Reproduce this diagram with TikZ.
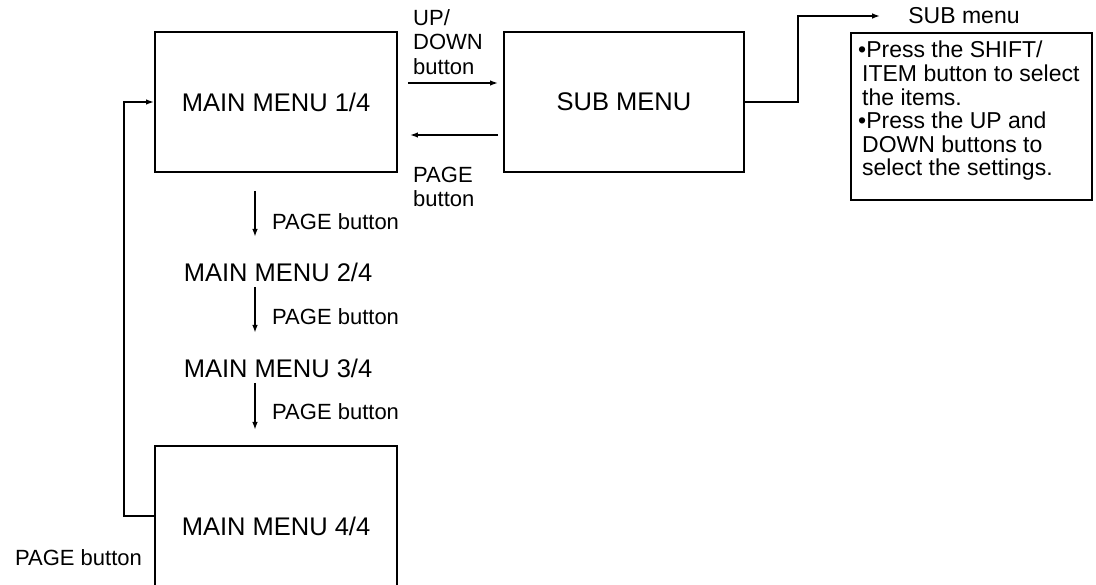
\documentclass[tikz,border=0pt]{standalone}
\usepackage{fontspec}
\setmainfont{Liberation Sans}
\usepackage{tikz}
\usetikzlibrary{positioning,arrows.meta}
\newcommand{\bigfs}{\fontsize{25.5}{27}\selectfont}
\newcommand{\lblfs}{\fontsize{22}{24.5}\selectfont}
\newcommand{\infofs}{\fontsize{23}{23.6}\selectfont}
\begin{document}
\begin{tikzpicture}[x=1pt, y=-1pt,
  menubox/.style={draw, line width=1.8pt, minimum width=242pt, minimum height=140pt, font=\bigfs},
  menutxt/.style={font=\bigfs, inner sep=0pt},
  lbl/.style={font=\lblfs, inner sep=0pt, align=left},
  infobox/.style={draw, line width=1.8pt, minimum width=241pt, minimum height=167pt, anchor=north west},
  arr/.style={-{Latex[length=8pt,width=5.5pt]}, line width=1.8pt}]
\useasboundingbox (0,0) rectangle (1096,585);
\node[menubox] (m1) at (276,102) {MAIN MENU 1/4};
\node[menubox, minimum width=240pt] (sub) at (624,102) {SUB MENU};
\node[menutxt] (m2) at (278,272) {MAIN MENU 2/4};
\node[menutxt] (m3) at (278,368) {MAIN MENU 3/4};
\node[menubox, minimum height=160pt, anchor=north] (m4) at (276,445) {MAIN MENU 4/4};
\coordinate (pg) at (255,0);
\draw[arr] ([yshift=-18pt]m1.south -| pg) -- ([yshift=35pt]m2.center -| pg);
\draw[arr] ([yshift=-15pt]m2.center -| pg) -- ([yshift=35pt]m3.center -| pg);
\draw[arr] ([yshift=-15pt]m3.center -| pg) -- ([yshift=15pt]m4.north -| pg);
\node[lbl, anchor=west] (pb1) at (272,222) {PAGE button};
\node[lbl, anchor=west] (pb2) at (272,317) {PAGE button};
\node[lbl, anchor=west] (pb3) at (272,412) {PAGE button};
\draw[arr] ([shift={(10pt,19pt)}]m1.east) -- ([shift={(-5pt,19pt)}]sub.west);
\draw[arr] ([shift={(-5pt,-33pt)}]sub.west) -- ([shift={(12pt,-33pt)}]m1.east);
\node[lbl, anchor=west] (updn) at (413,42) {UP/\\DOWN\\button};
\node[lbl, anchor=west] (pgb) at (413,187) {PAGE\\button};
\node[menutxt, font=\infofs] (smenu) at (964,16) {SUB menu};
\draw[arr] (sub.east) -- ++(53,0) |- ([xshift=-28pt]smenu.west);
\node[infobox] (info) at (850,32) {};
\node[lbl, font=\infofs, anchor=north west] (infotxt) at ([shift={(8pt,-9pt)}]info.north west)
  {\textbullet Press the SHIFT/\\
   \hspace*{4pt}ITEM button to select\\
   \hspace*{4pt}the items.\\
   \textbullet Press the UP and\\
   \hspace*{4pt}DOWN buttons to\\
   \hspace*{4pt}select the settings.};
\draw[arr] ([yshift=10pt]m4.west) -- ++(-30,0) |- (m1.west);
\node[lbl, anchor=east] (pbl) at ([shift={(-12pt,-32pt)}]m4.west) {PAGE button};
\end{tikzpicture}
\end{document}
